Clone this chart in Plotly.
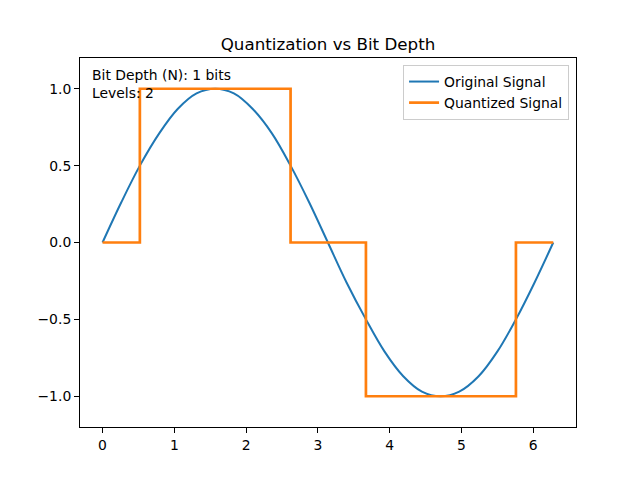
import plotly.graph_objects as go

# Original signal
orig_x = [0, 0.26, 0.52, 0.79, 1.05, 1.31, 1.57, 1.83, 2.09, 2.36, 2.62, 2.88, 3.14,
          3.40, 3.67, 3.93, 4.19, 4.45, 4.71, 4.97, 5.24, 5.50, 5.76, 6.02, 6.28]
orig_y = [0, 0.26, 0.50, 0.71, 0.87, 0.97, 1.00, 0.97, 0.87, 0.71, 0.50, 0.26, 0,
          -0.26, -0.50, -0.71, -0.87, -0.97, -1.00, -0.97, -0.87, -0.71, -0.50, -0.26, 0]

# Quantized signal (step change points)
quant_x = [0, 0.52, 2.62, 3.67, 5.76, 6.28]
quant_y = [0, 1, 0, -1, 0, 0]

x_ticks = [0, 1, 2, 3, 4, 5, 6]
y_ticks = [-1.0, -0.5, 0.0, 0.5, 1.0]

FONT = "DejaVu Sans"

fig = go.Figure()
fig.add_trace(go.Scatter(x=orig_x, y=orig_y, mode="lines", name="Original Signal",
                         line=dict(color="#1f77b4", width=2, shape="spline", smoothing=1)))
fig.add_trace(go.Scatter(x=quant_x, y=quant_y, mode="lines", name="Quantized Signal",
                         line=dict(color="#ff7f0e", width=2.7, shape="hv")))

axis_common = dict(showline=True, linecolor="black", linewidth=1, mirror=True,
                   ticks="outside", ticklen=5, tickwidth=1, tickcolor="black",
                   showgrid=False, zeroline=False,
                   tickfont=dict(family=FONT, size=13.9, color="black"))

fig.update_layout(
    width=640, height=480,
    margin=dict(l=80, r=64, t=58, b=53),
    paper_bgcolor="white", plot_bgcolor="white",
    font=dict(family=FONT, color="black"),
    title=dict(text="Quantization vs Bit Depth", x=0.5, xref="paper",
               y=1 - 44 / 480, yref="container", xanchor="center", yanchor="middle",
               font=dict(family=FONT, size=16.7, color="black")),
    xaxis=dict(range=[-0.314, 6.597], tickvals=x_ticks, **axis_common),
    yaxis=dict(range=[-1.2, 1.2], tickvals=y_ticks, tickformat=".1f", **axis_common),
    legend=dict(x=0.986, y=0.981, xanchor="right", yanchor="top",
                bgcolor="rgba(255,255,255,0.8)", bordercolor="#cccccc", borderwidth=1,
                font=dict(family=FONT, size=13.9, color="black"),
                itemwidth=30, tracegroupgap=0),
    showlegend=True,
)

fig.add_annotation(text="Bit Depth (N): 1 bits<br>Levels: 2", xref="paper", yref="paper",
                   x=0.02, y=0.98, xanchor="left", yanchor="top", showarrow=False,
                   align="left", font=dict(family=FONT, size=13.9, color="black"))

fig.write_html("out.html")
